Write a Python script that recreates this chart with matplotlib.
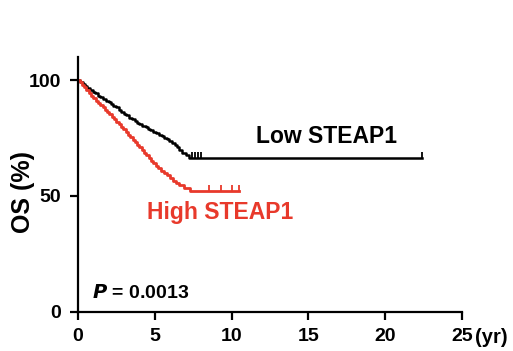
import matplotlib
matplotlib.use("Agg")
import matplotlib.pyplot as plt

plt.rcParams['font.family'] = ['Liberation Sans', 'DejaVu Sans']
plt.rcParams['font.weight'] = 'bold'

# Low STEAP1 KM curve (years, % survival)
low_t = [0, 0.15, 0.3, 0.45, 0.6, 0.8, 0.95, 1.1, 1.3, 1.45, 1.6, 1.8, 2.0, 2.15, 2.3,
         2.5, 2.65, 2.8, 3.0, 3.15, 3.3, 3.5, 3.7, 3.85, 4.0, 4.2, 4.4, 4.55, 4.7, 4.9,
         5.1, 5.3, 5.45, 5.6, 5.8, 5.95, 6.1, 6.3, 6.45, 6.6, 6.8, 7.0, 7.2, 22.4]
low_s = [100, 99.2, 98.4, 97.6, 96.5, 95.8, 95.0, 94.3, 93.2, 92.6, 91.8, 91.2, 90.5,
         89.6, 88.9, 88.2, 87.1, 86.4, 85.5, 84.9, 83.8, 83.1, 82.5, 81.6, 80.9, 80.2,
         79.6, 78.9, 78.4, 77.8, 77.1, 76.5, 75.7, 75.0, 74.4, 73.6, 72.8, 72.0, 71.1,
         69.8, 68.7, 67.6, 66.4, 66.4]
low_cens_t = [7.4, 7.6, 7.8, 8.0, 22.4]
low_cens_s = [66.4, 66.4, 66.4, 66.4, 66.4]

# High STEAP1 KM curve
high_t = [0, 0.12, 0.25, 0.4, 0.55, 0.7, 0.85, 1.0, 1.15, 1.3, 1.45, 1.6, 1.75, 1.9,
          2.05, 2.2, 2.35, 2.5, 2.65, 2.8, 2.95, 3.1, 3.25, 3.4, 3.55, 3.7, 3.85, 4.0,
          4.15, 4.3, 4.45, 4.6, 4.75, 4.9, 5.05, 5.2, 5.4, 5.6, 5.8, 6.0, 6.2, 6.4,
          6.6, 6.9, 7.3, 10.5]
high_s = [100, 99.0, 98.0, 96.9, 95.8, 94.6, 93.3, 92.1, 91.2, 90.1, 89.2, 88.2, 87.3,
          86.3, 85.2, 84.2, 83.1, 82.0, 80.9, 79.8, 78.8, 77.6, 76.4, 75.3, 74.2, 73.1,
          72.0, 70.9, 69.8, 68.6, 67.5, 66.4, 65.2, 64.1, 63.0, 61.9, 60.9, 59.8, 58.9,
          57.8, 56.6, 55.6, 54.6, 53.5, 52.3, 52.3]
high_cens_t = [8.5, 9.3, 10.0, 10.5]
high_cens_s = [52.3, 52.3, 52.3, 52.3]

x_ticks = [0, 5, 10, 15, 20, 25]
y_ticks = [0, 50, 100]

RED = '#e8392b'

fig = plt.figure(figsize=(5.13, 3.51), dpi=100)
ax = fig.add_axes([0.152, 0.1125, 0.7486, 0.725])

ax.step(low_t, low_s, where='post', color='black', lw=1.8)
ax.step(high_t, high_s, where='post', color=RED, lw=2.0)
ax.plot(low_cens_t, low_cens_s, linestyle='none', marker=2, markersize=4,
        markeredgewidth=1.3, color='black')
ax.plot(high_cens_t, high_cens_s, linestyle='none', marker=2, markersize=4,
        markeredgewidth=1.3, color=RED)

ax.set_xlim(0, 25)
ax.set_ylim(0, 110)
ax.set_xticks(x_ticks)
ax.set_yticks(y_ticks)
ax.set_xticklabels([str(v) for v in x_ticks], fontsize=14, fontweight='bold')
ax.set_yticklabels([str(v) for v in y_ticks], fontsize=14, fontweight='bold')
ax.spines['top'].set_visible(False)
ax.spines['right'].set_visible(False)
ax.spines['left'].set_linewidth(1.6)
ax.spines['bottom'].set_linewidth(1.6)
ax.tick_params(direction='out', length=6, width=1.6)
ax.tick_params(axis='x', pad=6)
ax.tick_params(axis='y', pad=6)

fig.text(23 / 513, 1 - 192 / 351, 'OS (%)', rotation=90, fontsize=18,
         fontweight='bold', ha='center', va='center')

ax.annotate('(yr)', xy=(25, 0), xycoords='data', xytext=(9.5, -12),
            textcoords='offset points', fontsize=14.5, fontweight='bold',
            ha='left', va='top', annotation_clip=False)
ax.text(16.2, 75.8, 'Low STEAP1', fontsize=16.5, fontweight='bold', ha='center', va='center')
ax.text(9.25, 42.7, 'High STEAP1', fontsize=16.5, fontweight='bold', ha='center',
        va='center', color=RED)
ax.text(0.9, 8, '$\\bfit{P}$ = 0.0013', fontsize=14, fontweight='bold', ha='left', va='center')

fig.savefig('out.png', dpi=100)
